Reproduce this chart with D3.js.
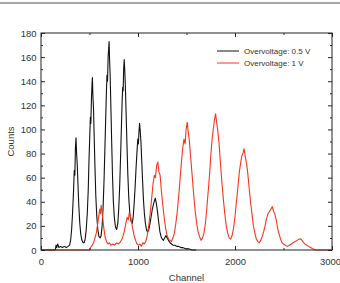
<!DOCTYPE html>
<html>
<head>
<meta charset="utf-8">
<script src="https://cdn.jsdelivr.net/npm/d3@7"></script>
<style>
  body { margin: 0; background: #fff; }
  #chart { width: 340px; height: 283px; }
  text { font-family: "Liberation Sans", Arial, sans-serif; fill: #333; }
</style>
</head>
<body>
<div id="chart"></div>
<script>
// overvoltage 0.5 V (black)
var ch05 = [0,148,155,162,172,185,200,220,240,260,280,295,305,315,325,335,343,349,355,361,367,373,381,390,400,410,422,434,445,455,465,477,487,495,503,509,514,520,526,530,535,541,548,556,565,575,586,598,610,620,630,640,650,660,668,674,680,686,692,698,702,707,713,720,728,737,746,756,768,780,792,802,812,822,830,836,842,847,852,858,864,870,878,886,895,905,916,928,940,950,960,970,980,990,998,1004,1010,1016,1022,1030,1038,1047,1056,1066,1078,1090,1100,1112,1124,1136,1148,1160,1170,1178,1186,1194,1204,1215,1226,1238,1250,1262,1275,1288,1300,1315,1330,1345,1360,1380,1400,1420,1440,1460,1490,1520,1560,1600];
var counts05 = [0,0,4,2,5,2,3,2,3,2,3,4,8,16,30,48,66,62,85,93,80,72,55,36,22,13,8,6,6,9,16,30,50,75,95,110,105,125,138,143,128,118,95,70,45,28,17,11,10,12,20,35,58,88,112,130,145,140,160,168,173,158,145,120,92,62,40,27,19,17,22,35,55,82,105,122,135,132,150,158,148,135,112,88,63,43,30,24,22,27,38,52,68,82,92,88,98,105,100,90,75,58,42,30,21,16,15,17,22,28,34,38,41,43,40,36,30,22,15,11,9,8,10,12,10,8,6,5,4,4,3,3,2,2,1,1,0,0];

// overvoltage 1 V (red)
var ch1 = [0,500,510,530,550,570,585,598,606,614,620,628,636,648,660,675,690,705,720,740,760,780,800,820,840,858,874,888,900,910,920,932,945,960,975,990,1005,1020,1035,1050,1065,1080,1095,1110,1125,1140,1155,1168,1180,1192,1205,1215,1228,1240,1255,1270,1285,1300,1315,1330,1345,1360,1375,1390,1405,1420,1435,1450,1462,1474,1486,1496,1508,1518,1530,1545,1560,1575,1590,1605,1620,1635,1650,1665,1680,1695,1710,1725,1740,1752,1764,1776,1788,1800,1812,1824,1836,1850,1865,1880,1895,1910,1925,1940,1955,1970,1985,2000,2015,2030,2045,2058,2070,2082,2094,2105,2118,2130,2145,2160,2175,2190,2205,2220,2235,2250,2265,2280,2295,2310,2325,2340,2355,2370,2385,2398,2410,2425,2440,2455,2470,2485,2500,2520,2540,2560,2580,2600,2620,2640,2660,2680,2700,2720,2740,2760,2780,2800,2830,3000];
var counts1 = [0,0,2,4,8,14,22,30,34,30,37,33,27,18,11,7,5,6,4,5,4,6,5,7,10,15,22,27,25,31,29,24,18,12,8,5,4,5,3,6,5,7,12,20,30,42,55,62,60,70,73,65,62,50,38,27,18,12,9,8,7,10,14,22,32,45,60,75,85,92,88,100,106,98,90,75,60,45,32,22,15,11,8,10,14,22,35,50,65,80,92,100,108,113,105,98,88,72,56,42,30,20,14,10,9,12,18,28,40,52,65,72,78,80,84,78,72,65,52,40,30,20,14,9,7,6,8,11,15,20,26,30,32,34,36,32,30,25,18,13,9,6,5,4,3,4,5,6,7,8,9,9,7,5,4,3,2,1,0,0];

var seriesNames = ["Overvoltage: 0.5 V", "Overvoltage: 1 V"];
var seriesColors = ["#111111", "#f5371c"];
var xTicks = [0, 1000, 2000, 3000];
var xMinor = [500, 1500, 2500];
var yTicks = [0, 20, 40, 60, 80, 100, 120, 140, 160, 180];
var yMinor = [10, 30, 50, 70, 90, 110, 130, 150, 170];

var width = 340, height = 283;
var margin = {top: 33, left: 41, right: 8, bottom: 33};

var svg = d3.select("#chart").append("svg")
    .attr("width", width)
    .attr("height", height);

// thin grey rule across the top of the figure
svg.append("line")
    .attr("x1", 0).attr("x2", width)
    .attr("y1", 3).attr("y2", 3)
    .attr("stroke", "#8a8a8a")
    .attr("stroke-width", 1.5);

var x = d3.scaleLinear().domain([0, 3000]).range([margin.left, width - margin.right]);
var y = d3.scaleLinear().domain([0, 180]).range([height - margin.bottom, margin.top]);

var line = d3.line()
    .x(function(d) { return x(d[0]); })
    .y(function(d) { return y(d[1]); });

var black = ch05.map(function(c, i) { return [c, counts05[i]]; });
var red = ch1.map(function(c, i) { return [c, counts1[i]]; });

svg.append("path").datum(black)
    .attr("d", line)
    .attr("fill", "none")
    .attr("stroke", seriesColors[0])
    .attr("stroke-width", 1.1)
    .attr("stroke-linejoin", "round");

svg.append("path").datum(red)
    .attr("d", line)
    .attr("fill", "none")
    .attr("stroke", seriesColors[1])
    .attr("stroke-width", 1.1)
    .attr("stroke-linejoin", "round");

// axes: ticks point inward on all four sides
function styleAxis(g) {
    g.select(".domain").remove();
    g.selectAll("line").attr("stroke", "#222");
    g.selectAll("text").attr("font-size", "9.5px").attr("fill", "#333")
        .style("font-family", "'Liberation Sans', Arial, sans-serif");
}

var xAxis = svg.append("g")
    .attr("transform", "translate(0," + (height - margin.bottom) + ")")
    .call(d3.axisBottom(x).tickValues(xTicks).tickFormat(d3.format("d"))
        .tickSizeInner(-4).tickSizeOuter(0).tickPadding(8))
    .call(styleAxis);
// last label sits on the window edge; nudge it in so it stays readable
xAxis.selectAll(".tick text").filter(function(d) { return d === 3000; })
    .attr("dx", "-2px");

svg.append("g")
    .attr("transform", "translate(0," + (height - margin.bottom) + ")")
    .call(d3.axisBottom(x).tickValues(xMinor).tickSize(-2).tickFormat(""))
    .call(styleAxis);
svg.append("g")
    .attr("transform", "translate(0," + margin.top + ")")
    .call(d3.axisTop(x).tickValues(xTicks).tickSize(-4).tickFormat(""))
    .call(styleAxis);
svg.append("g")
    .attr("transform", "translate(0," + margin.top + ")")
    .call(d3.axisTop(x).tickValues(xMinor).tickSize(-2).tickFormat(""))
    .call(styleAxis);

svg.append("g")
    .attr("transform", "translate(" + margin.left + ",0)")
    .call(d3.axisLeft(y).tickValues(yTicks).tickSizeInner(-4).tickSizeOuter(0).tickPadding(4.5))
    .call(styleAxis);
svg.append("g")
    .attr("transform", "translate(" + margin.left + ",0)")
    .call(d3.axisLeft(y).tickValues(yMinor).tickSize(-2).tickFormat(""))
    .call(styleAxis);
svg.append("g")
    .attr("transform", "translate(" + (width - margin.right) + ",0)")
    .call(d3.axisRight(y).tickValues(yTicks).tickSize(-4).tickFormat(""))
    .call(styleAxis);
svg.append("g")
    .attr("transform", "translate(" + (width - margin.right) + ",0)")
    .call(d3.axisRight(y).tickValues(yMinor).tickSize(-2).tickFormat(""))
    .call(styleAxis);

// plot frame
svg.append("rect")
    .attr("x", margin.left)
    .attr("y", margin.top)
    .attr("width", width - margin.left - margin.right)
    .attr("height", height - margin.top - margin.bottom)
    .attr("fill", "none")
    .attr("stroke", "#222")
    .attr("stroke-width", 1);

// legend
var legend = svg.append("g").attr("transform", "translate(217,51)");
seriesNames.forEach(function(name, i) {
    legend.append("line")
        .attr("x1", 0).attr("x2", 22)
        .attr("y1", i * 12).attr("y2", i * 12)
        .attr("stroke", seriesColors[i])
        .attr("stroke-width", 1);
    legend.append("text")
        .attr("x", 27)
        .attr("y", i * 12)
        .attr("dy", "0.35em")
        .attr("font-size", "8px")
        .text(name);
});

// axis titles
svg.append("text")
    .attr("x", (margin.left + width - margin.right) / 2)
    .attr("y", 281)
    .attr("text-anchor", "middle")
    .attr("font-size", "9.5px")
    .text("Channel");

svg.append("text")
    .attr("transform", "rotate(-90)")
    .attr("x", -(margin.top + height - margin.bottom) / 2)
    .attr("y", 14)
    .attr("text-anchor", "middle")
    .attr("font-size", "9.5px")
    .text("Counts");
</script>
</body>
</html>
